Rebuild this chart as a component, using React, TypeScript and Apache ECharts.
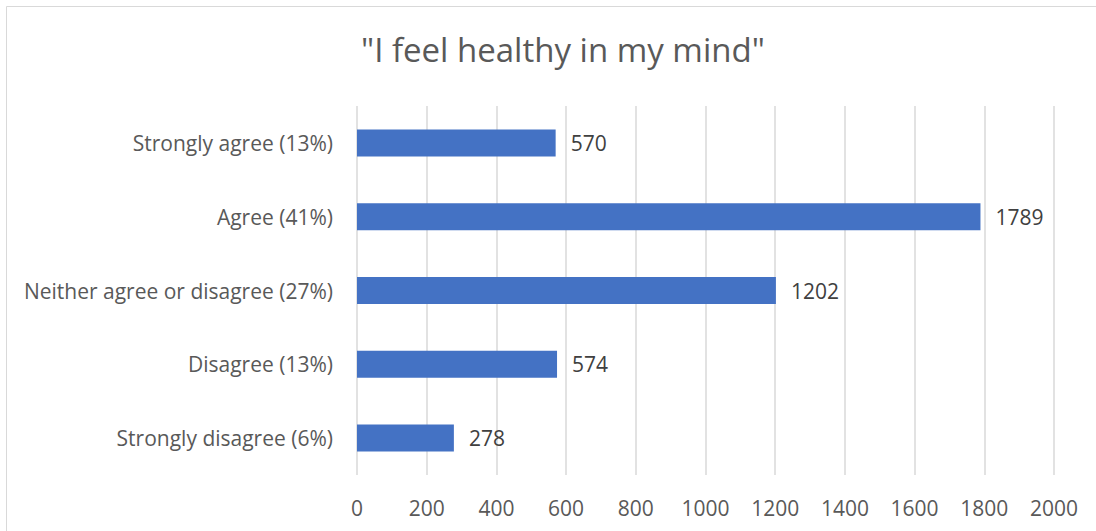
import React, { useEffect, useRef } from "react";
import * as echarts from "echarts";

const categories = [
  "Strongly disagree (6%)",
  "Disagree (13%)",
  "Neither agree or disagree (27%)",
  "Agree (41%)",
  "Strongly agree (13%)",
];
const values = [278, 574, 1202, 1789, 570];
const titleText = '"I feel healthy in my mind"';

export default function App() {
  const ref = useRef<HTMLDivElement>(null);
  useEffect(() => {
    const chart = echarts.init(ref.current!, null, { renderer: "svg" });
    const font = "'Open Sans', 'Noto Sans', sans-serif";
    chart.setOption({
      animation: false,
      backgroundColor: "#ffffff",
      title: {
        text: titleText,
        left: 356,
        top: 28,
        textStyle: { fontFamily: font, fontSize: 33, fontWeight: "normal", color: "#595959" },
      },
      graphic: [
        {
          type: "rect",
          shape: { x: 6.5, y: 6.5, width: 1100, height: 540 },
          style: { fill: "none", stroke: "#d9d9d9", lineWidth: 1 },
          silent: true,
        },
      ],
      grid: { left: 357, right: 42, top: 106, bottom: 56 },
      xAxis: {
        type: "value",
        min: 0,
        max: 2000,
        interval: 200,
        axisLine: { show: false },
        axisTick: { show: false },
        splitLine: { show: true, lineStyle: { color: "#d9d9d9", width: 1.5 } },
        axisLabel: {
          color: "#595959",
          fontSize: 21,
          fontFamily: font,
          margin: 22,
          formatter: (v: number) => String(v),
        },
      },
      yAxis: {
        type: "category",
        data: categories,
        axisLine: { show: false },
        axisTick: { show: false },
        splitLine: { show: false },
        axisLabel: { color: "#595959", fontSize: 21, fontFamily: font, margin: 24 },
      },
      series: [
        {
          type: "bar",
          data: values,
          barWidth: 27,
          itemStyle: { color: "#4472C4" },
          label: {
            show: true,
            position: "right",
            distance: 15,
            color: "#404040",
            fontSize: 21,
            fontFamily: font,
          },
        },
      ],
    });
    return () => chart.dispose();
  }, []);
  return (
    <div
      ref={ref}
      style={{ position: "fixed", left: 0, top: 0, width: 1096, height: 531 }}
    />
  );
}
